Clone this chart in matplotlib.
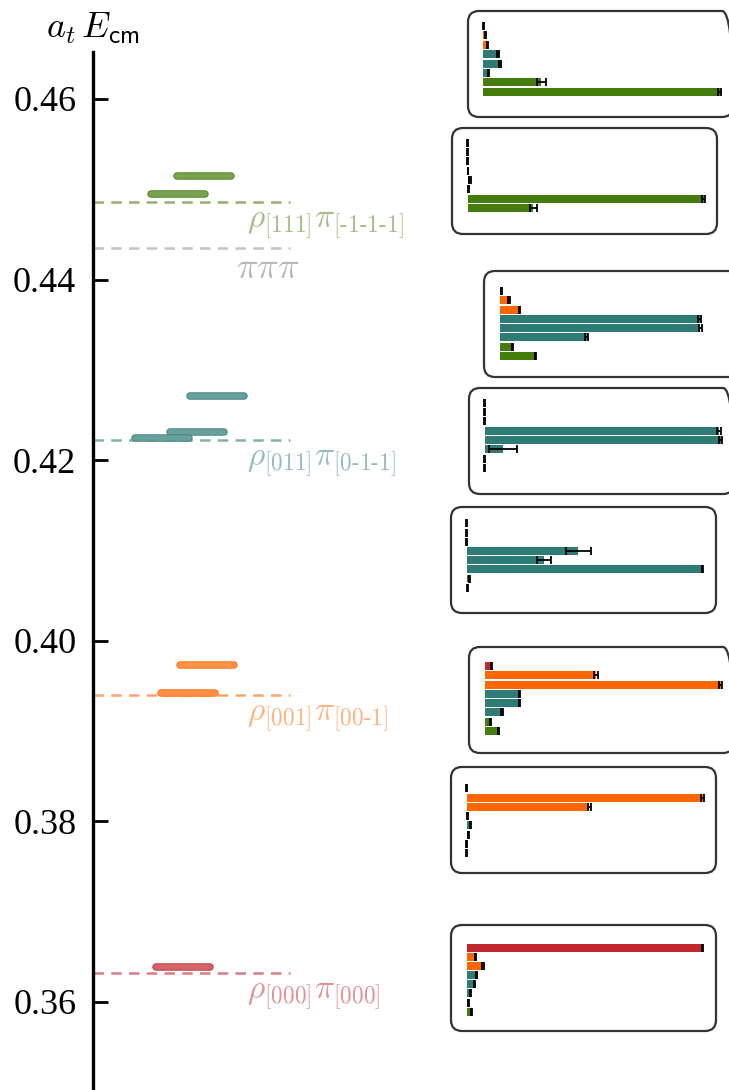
import numpy as np
import matplotlib
matplotlib.use("Agg")
import matplotlib.pyplot as plt
from matplotlib.patches import FancyBboxPatch
from matplotlib.transforms import IdentityTransform
from matplotlib.colors import to_rgb
import matplotlib.patheffects as pe

plt.rcParams['mathtext.fontset'] = 'cm'
plt.rcParams['font.family'] = ['Liberation Serif', 'DejaVu Serif']

# ---- data -------------------------------------------------------------
RED, ORANGE, TEAL, GREEN = '#c1272d', '#ff6600', '#2f7b76', '#447d0e'
GREY = '#b0b0b0'

# finite-volume energy levels (a_t E_cm), top to bottom
level_E = [0.45147, 0.44950, 0.42711, 0.42312, 0.42246, 0.39732, 0.39422, 0.36388]
level_col = [GREEN, GREEN, TEAL, TEAL, TEAL, ORANGE, ORANGE, RED]
level_x = [0.310, 0.237, 0.347, 0.291, 0.193, 0.319, 0.265, 0.252]

# non-interacting thresholds
thr_E = [0.4486, 0.4435, 0.42224, 0.3940, 0.36321]
thr_col = [GREEN, GREY, TEAL, ORANGE, RED]
thr_lab = [r'$\rho_{\mathsf{[111]}}\pi_{\mathsf{[\text{-}1\text{-}1\text{-}1]}}$',
           r'$\pi\pi\pi$',
           r'$\rho_{\mathsf{[011]}}\pi_{\mathsf{[0\text{-}1\text{-}1]}}$',
           r'$\rho_{\mathsf{[001]}}\pi_{\mathsf{[00\text{-}1]}}$',
           r'$\rho_{\mathsf{[000]}}\pi_{\mathsf{[000]}}$']

yticks = [0.36, 0.38, 0.40, 0.42, 0.44, 0.46]

# operator overlaps for each level (operators: rho pi [000], [001] x2, [011] x3, [111] x2)
op_col = [RED, ORANGE, ORANGE, TEAL, TEAL, TEAL, GREEN, GREEN]
Z = [
    [0.000, 0.008, 0.018, 0.061, 0.071, 0.021, 0.245, 1.000],
    [0.000, 0.000, 0.000, 0.002, 0.010, 0.003, 1.000, 0.279],
    [0.008, 0.040, 0.085, 0.848, 0.850, 0.370, 0.056, 0.153],
    [0.000, 0.000, 0.000, 0.995, 1.000, 0.077, 0.000, 0.000],
    [0.000, 0.000, 0.000, 0.473, 0.330, 1.000, 0.014, 0.004],
    [0.030, 0.474, 1.000, 0.148, 0.148, 0.075, 0.024, 0.060],
    [0.000, 1.000, 0.520, 0.005, 0.015, 0.010, 0.000, 0.000],
    [1.000, 0.037, 0.070, 0.042, 0.035, 0.018, 0.007, 0.021],
]
Zerr = [
    [0.001, 0.002, 0.003, 0.004, 0.004, 0.003, 0.018, 0.006],
    [0.001, 0.001, 0.001, 0.002, 0.003, 0.002, 0.006, 0.014],
    [0.002, 0.003, 0.003, 0.006, 0.006, 0.006, 0.003, 0.003],
    [0.001, 0.001, 0.001, 0.008, 0.008, 0.060, 0.001, 0.001],
    [0.001, 0.002, 0.001, 0.053, 0.030, 0.003, 0.002, 0.001],
    [0.003, 0.008, 0.006, 0.003, 0.003, 0.003, 0.002, 0.003],
    [0.001, 0.006, 0.006, 0.002, 0.002, 0.002, 0.001, 0.001],
    [0.002, 0.003, 0.004, 0.003, 0.003, 0.002, 0.002, 0.002],
]

# ---- layout (pixels) ---------------------------------------------------
W, H = 729, 1090
fig = plt.figure(figsize=(W / 100, H / 100), dpi=100)


def px_axes(left, top, width, height):
    return fig.add_axes([left / W, 1 - (top + height) / H, width / W, height / H])


def tint(c, f):
    r = np.array(to_rgb(c))
    return tuple(f * r + (1 - f))


ax = px_axes(93, 52, 357, H - 52)
ax.set_xlim(0, 1)
ax.set_ylim(0.35025, 0.4652)
for s in ['top', 'right', 'bottom']:
    ax.spines[s].set_visible(False)
ax.spines['left'].set_linewidth(2.4)
ax.set_xticks([])
ax.set_yticks(yticks)
ax.set_yticklabels([f'{t:.2f}' for t in yticks])
ax.tick_params(axis='y', direction='in', length=11, width=2.0, labelsize=26, pad=12)
ax.annotate(r'$a_t\,E_{\mathsf{cm}}$', xy=(0, 1), xycoords='axes fraction',
            xytext=(0, 4), textcoords='offset points', ha='center', va='bottom',
            fontsize=26)

# thresholds
for E, c, lab in zip(thr_E, thr_col, thr_lab):
    grey = c == GREY
    lc = '#c4c4c4' if grey else tint(c, 0.6)
    tc = '#b8b8b8' if grey else tint(c, 0.5)
    ax.plot([0, 0.552], [E, E], color=lc, lw=1.8, dashes=(4.2, 2.9), zorder=2)
    xl = 0.40 if grey else 0.431
    ax.annotate(lab, xy=(xl, E), xytext=(0, -3 if grey else -5), textcoords='offset points',
                ha='left', va='top', fontsize=26 if grey else 24, color=tc)

# energy levels
half = 0.0756
for E, c, x in zip(level_E, level_col, level_x):
    ax.plot([x - half, x + half], [E, E], color=tint(c, 0.72), lw=4.0,
            solid_capstyle='round', zorder=3,
            path_effects=[pe.Stroke(linewidth=5.4, foreground=tint(c, 0.92)), pe.Normal()])

# overlap insets
boxes = [(468, 11, 26.0, 91.7), (452, 128, 142.7, 208.0), (484, 271, 291.0, 356.0),
         (469, 388, 402.7, 468.0), (451, 507, 523.3, 587.7), (469, 647, 666.0, 731.0),
         (451, 767, 788.3, 853.3), (451, 925, 947.7, 1011.7)]
BW, BH, BAR_W = 265, 106, 236
rows = np.arange(8)
for (bl, bt, r0, r1), z, ze in zip(boxes, Z, Zerr):
    box = FancyBboxPatch((bl, H - bt - BH), BW, BH,
                         boxstyle='round,pad=0,rounding_size=11',
                         transform=IdentityTransform(), fc='none', ec='#333333', lw=1.6)
    fig.add_artist(box)
    sp = (r1 - r0) / 7
    iax = px_axes(bl + 15.5, r0 - sp / 2, BAR_W, 8 * sp)
    iax.set_xlim(0, 1)
    iax.set_ylim(7.5, -0.5)
    iax.axis('off')
    bars = iax.barh(rows, z, height=0.86, color=op_col, edgecolor='none')
    for b in bars:
        b.set_clip_on(False)
    eb = iax.errorbar(z, rows, xerr=ze, fmt='none', ecolor='black', elinewidth=1.3,
                      capsize=3, capthick=1.3)
    for a in eb.lines[1] + eb.lines[2]:
        a.set_clip_on(False)

fig.savefig('out.png', dpi=100)
